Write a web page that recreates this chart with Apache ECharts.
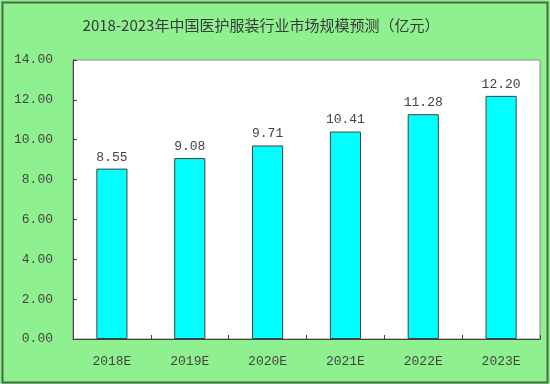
<!DOCTYPE html>
<html><head><meta charset="utf-8">
<script src="https://cdn.jsdelivr.net/npm/echarts@6/dist/echarts.min.js"></script>
<style>html,body{margin:0;padding:0;background:#8ff08f;}#c{width:550px;height:384px;}</style>
</head><body><div id="c"></div>
<script>
const categories = ['2018E','2019E','2020E','2021E','2022E','2023E'];
const values = [8.55, 9.08, 9.71, 10.41, 11.28, 12.20];
const titleText = '2018-2023年中国医护服装行业市场规模预测（亿元）';
const numFont = '"Liberation Mono", "DejaVu Sans Mono", monospace';

const chart = echarts.init(document.getElementById('c'));
chart.setOption({
  backgroundColor: '#8ff08f',
  animation: false,
  title: {
    text: titleText, left: 256, top: 13, textAlign: 'center',
    textStyle: {fontSize: 15, fontWeight: 'normal', color: '#3a3a3a', fontFamily: '"Noto Sans CJK SC", sans-serif'}
  },
  graphic: [{
    type: 'rect', left: 0, top: 0, silent: true,
    shape: {x: 0.5, y: 0.5, width: 545, height: 380},
    style: {fill: 'none', stroke: '#4a6a4a', lineWidth: 2}
  }],
  grid: {left: 73, right: 10, top: 60, bottom: 45, show: true, backgroundColor: '#ffffff', borderColor: '#8a8a8a', borderWidth: 1},
  xAxis: {
    type: 'category', data: categories,
    axisLine: {lineStyle: {color: '#404040', width: 1}},
    axisTick: {show: true, inside: true, length: 4, lineStyle: {color: '#404040'}},
    axisLabel: {margin: 16, fontSize: 13, color: '#444', fontFamily: numFont}
  },
  yAxis: {
    type: 'value', min: 0, max: 14, interval: 2,
    axisLine: {show: true, lineStyle: {color: '#404040', width: 1}},
    axisTick: {show: true, inside: true, length: 4, lineStyle: {color: '#404040'}},
    splitLine: {show: false},
    axisLabel: {margin: 20, fontSize: 13, color: '#444', fontFamily: numFont, formatter: v => v.toFixed(2)}
  },
  series: [{
    type: 'bar', data: values, barWidth: '40%',
    itemStyle: {color: '#00ffff', borderColor: '#404040', borderWidth: 1},
    label: {show: true, position: 'top', distance: 5, fontSize: 13, color: '#444', fontFamily: numFont, formatter: p => p.value.toFixed(2)}
  }]
});
</script></body></html>
